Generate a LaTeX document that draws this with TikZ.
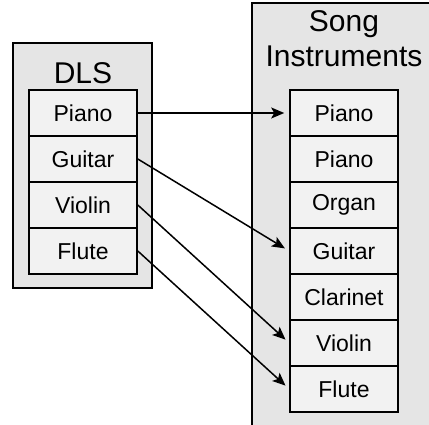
\documentclass[tikz,border=0pt]{standalone}
\usepackage{fontspec}
\setmainfont{Liberation Sans}
\usetikzlibrary{arrows.meta}
\begin{document}
\begin{tikzpicture}[x=1pt,y=1pt,
  outerbox/.style={draw=black,line width=1.6pt,fill=black!10},
  item/.style={draw=black,line width=1.6pt,fill=black!5,minimum width=108pt,minimum height=46pt,inner sep=0pt,font=\fontsize{23}{26}\selectfont},
  titletext/.style={anchor=base,inner sep=0pt,font=\fontsize{30}{34}\selectfont},
  link/.style={line width=1.5pt,shorten >=5pt,-{Stealth[length=13pt,width=11pt,inset=3pt]}}]
\useasboundingbox (0,0) rectangle (429,-425);
\begin{scope}
\clip (0,0) rectangle (429,-425);
\draw[outerbox] (13,-43) rectangle (152,-288);
\draw[outerbox] (252,-3) rectangle (445,-445);
\end{scope}
\node[titletext] (dls) at (83,-84) {DLS};
\node[titletext] (song) at (344,-32) {Song};
\node[titletext] (instr) at (344,-67) {Instruments};
% left column
\node[item] (lpiano) at (83,-113) {Piano};
\node[item] (lguitar) at (83,-159) {Guitar};
\node[item] (lviolin) at (83,-205) {Violin};
\node[item] (lflute) at (83,-251) {Flute};
% right column
\node[item] (rpiano) at (344,-113) {Piano};
\node[item] (rpiano2) at (344,-159) {Piano};
\node[item] (rorgan) at (344,-205) {Organ};
\node[item] (rguitar) at (344,-251) {Guitar};
\node[item] (rclarinet) at (344,-297) {Clarinet};
\node[item] (rviolin) at (344,-343) {Violin};
\node[item] (rflute) at (344,-389) {Flute};
% links
\draw[link] (lpiano.east) -- (rpiano.west);
\draw[link] (lguitar.east) -- (rguitar.west);
\draw[link] (lviolin.east) -- (rviolin.west);
\draw[link] (lflute.east) -- (rflute.west);
\end{tikzpicture}
\end{document}
